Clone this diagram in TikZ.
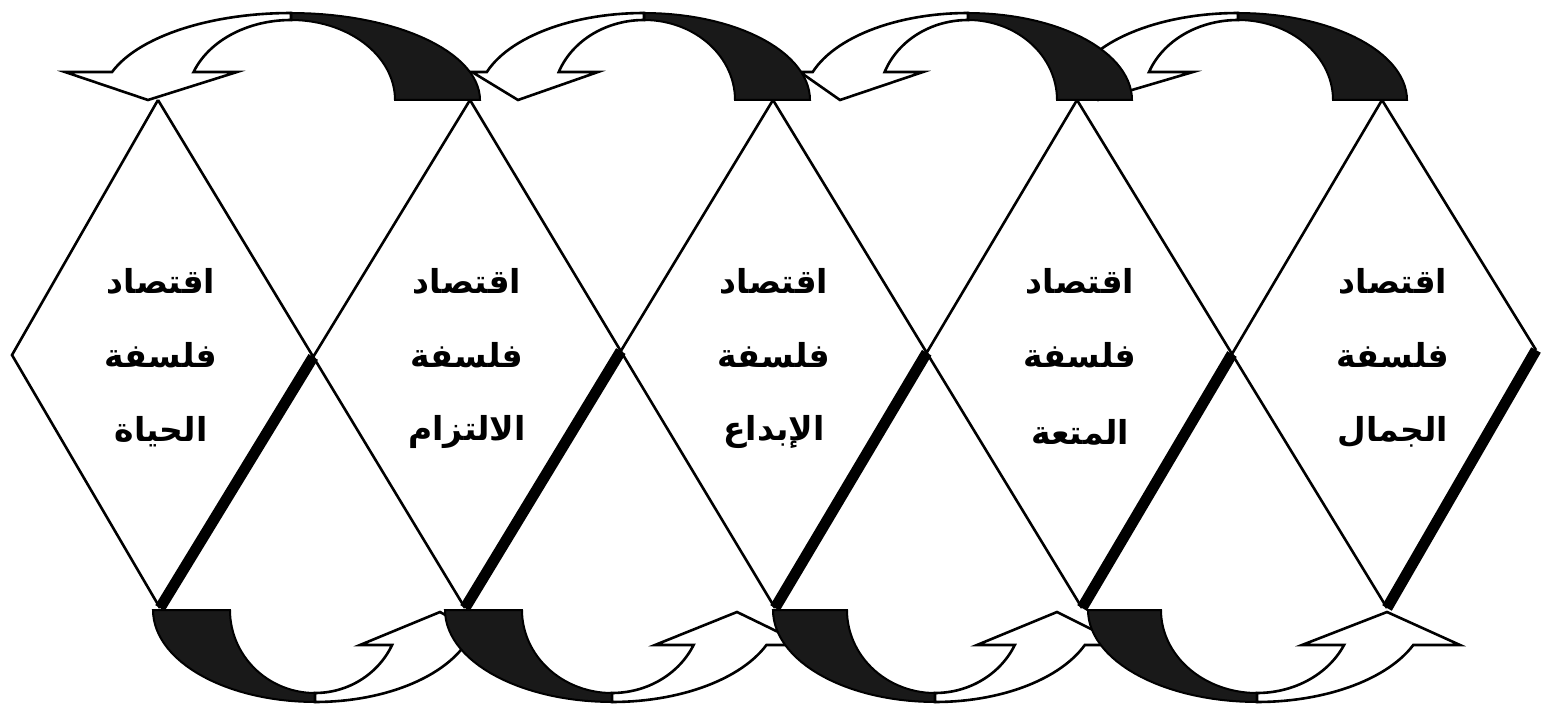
\documentclass[tikz,border=0pt]{standalone}
\usepackage{fontspec}
\newfontfamily\arabicfont[Script=Arabic]{DejaVu Sans}
\TeXXeTstate=1

\begin{document}
\begin{tikzpicture}[x=1pt,y=-1pt,
  thinline/.style={line width=2.6pt},
  thickline/.style={line width=11pt},
  backface/.style={fill=black!90,draw=black,line width=2pt},
  frontface/.style={fill=white,draw=black,line width=2.6pt},
  arabtext/.style={font=\arabicfont\bfseries\fontsize{33}{38}\selectfont,inner sep=0pt}]
 \useasboundingbox (0,0) rectangle (1543,706);
 \coordinate (l) at (12,355);
 \coordinate (r) at (1536,350);
 \foreach \i/\tx/\bx in {1/158/160,2/470/465,3/773/775,4/1077/1082,5/1382/1387} {
  \coordinate (t\i) at (\tx,100);
  \coordinate (b\i) at (\bx,608);
 }
 \foreach \i/\mx/\my in {1/313.2/356.9,2/620.8/351.1,3/926.7/352.7,4/1232/354}
  \coordinate (m\i) at (\mx,\my);
 \draw[thinline] (b1) -- (l) -- (t1);
 \foreach \i/\j in {1/2,2/3,3/4,4/5} {
  \draw[thinline] (t\i) -- (b\j) (t\j) -- (m\i);
  \draw[thickline] (m\i) -- (b\i);
 }
 \draw[thinline] (t5) -- (r);
 \draw[thickline] (r) -- (b5);
 \foreach \cx/\ro/\ri/\pa/\pb/\pc in {1238/169/95/1060/1098/1193,968/164/89/800/840/923,644/166/91/472/518/598,291/189/104/65/148/237} {
  \filldraw[backface] plot[domain=0:90,samples=30] ({\cx+\ro*cos(\x)},{100-87*sin(\x)})
   -- plot[domain=90:0,samples=30] ({\cx+\ri*cos(\x)},{100-80*sin(\x)}) -- cycle;
  \filldraw[frontface] plot[domain=90:161.23,samples=30] ({\cx+\ro*cos(\x)},{100-87*sin(\x)})
   -- (\pa,72) -- (\pb,100) -- (\pc,72)
   -- plot[domain=159.51:90,samples=30] ({\cx+\ri*cos(\x)},{100-80*sin(\x)}) -- cycle;
 }
 \foreach \cx/\ro/\ri/\pa/\pb/\pc in {315/162/85/360/440/500,612/167/90/655/737/805,935/162/88/977/1057/1123,1257/169/96/1302/1387/1460} {
  \filldraw[backface] plot[domain=180:270,samples=30] ({\cx+\ro*cos(\x)},{610-92*sin(\x)})
   -- plot[domain=270:180,samples=30] ({\cx+\ri*cos(\x)},{610-83*sin(\x)}) -- cycle;
  \filldraw[frontface] plot[domain=270:337.64,samples=30] ({\cx+\ro*cos(\x)},{610-92*sin(\x)})
   -- (\pc,645) -- (\pb,612) -- (\pa,645)
   -- plot[domain=335.06:270,samples=30] ({\cx+\ri*cos(\x)},{610-83*sin(\x)}) -- cycle;
 }
 \foreach \i/\px/\word in {1/161/الحياة,2/467/الالتزام,3/774/الإبداع,4/1080/المتعة,5/1393/الجمال} {
  \node[arabtext] (eco\i) at (\px,281) {\beginR اقتصاد\endR};
  \node[arabtext] (phil\i) at (\px,355) {\beginR فلسفة\endR};
  \node[arabtext] (name\i) at (\px,432) {\beginR \word\endR};
 }
\end{tikzpicture}
\end{document}
